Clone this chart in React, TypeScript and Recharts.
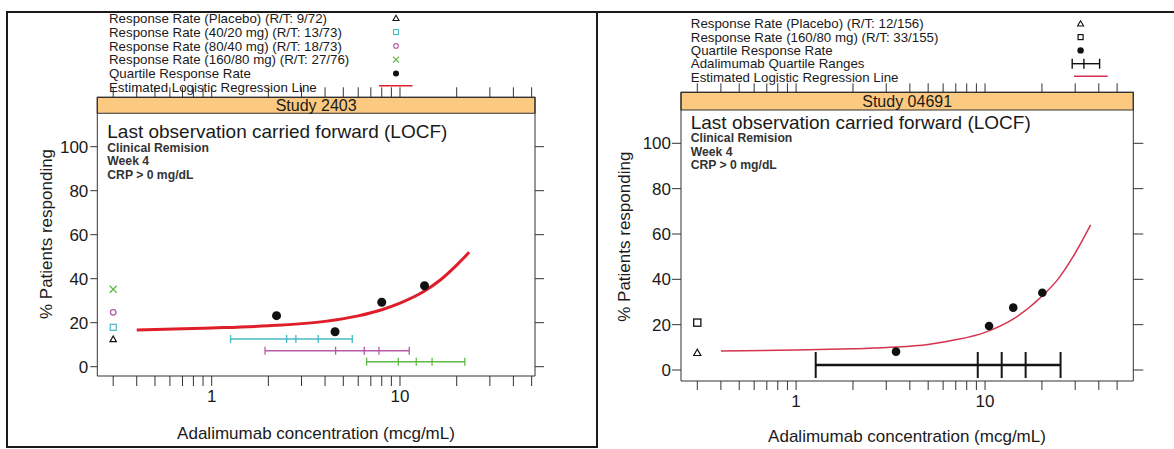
import React from 'react';
import { ComposedChart, XAxis, YAxis, Line, Scatter, ReferenceArea } from 'recharts';

const FONT = '"Liberation Sans", Arial, Helvetica, sans-serif';

// shared axes
const xTicks = [0.3, 0.4, 0.5, 0.6, 0.7, 0.8, 0.9, 1, 2, 3, 4, 5, 6, 7, 8, 9, 10, 20, 30, 40, 50];
const xLabelTicks = [1, 10];
const yTicks = [0, 20, 40, 60, 80, 100];

// Study 2403
const placebo2403 = [{ x: 0.3, y: 12.5 }];
const dose40_2403 = [{ x: 0.3, y: 17.9 }];
const dose80_2403 = [{ x: 0.3, y: 24.7 }];
const dose160_2403 = [{ x: 0.3, y: 35.2 }];
const quartile2403 = [
  { x: 2.21, y: 23.2 },
  { x: 4.52, y: 15.9 },
  { x: 8.0, y: 29.3 },
  { x: 13.5, y: 36.8 },
];
const fit2403 = [
  { x: 0.4, y: 16.7 }, { x: 1, y: 17.6 }, { x: 2, y: 18.6 }, { x: 4, y: 20.6 },
  { x: 6, y: 23.1 }, { x: 8, y: 25.9 }, { x: 10, y: 28.9 }, { x: 13.5, y: 34.4 },
  { x: 16.3, y: 39.3 }, { x: 20, y: 46.2 }, { x: 23.3, y: 52.0 },
];
const range40Ticks2403 = [1.26, 2.5, 2.8, 3.68, 5.58];
const range80Ticks2403 = [1.92, 4.55, 6.46, 7.73, 11.2];
const range160Ticks2403 = [6.65, 9.8, 12.2, 14.8, 22.1];
const rangeLevels2403 = [12.6, 7.3, 2.3];

// Study 04691
const placebo04691 = [{ x: 0.3, y: 7.6 }];
const dose160_04691 = [{ x: 0.3, y: 20.9 }];
const quartile04691 = [
  { x: 3.38, y: 8.1 },
  { x: 10.5, y: 19.4 },
  { x: 14.1, y: 27.5 },
  { x: 20.1, y: 34.1 },
];
const fit04691 = [
  { x: 0.4, y: 8.4 }, { x: 1, y: 8.8 }, { x: 2, y: 9.4 }, { x: 3.4, y: 10.1 },
  { x: 5, y: 11.3 }, { x: 7, y: 13.3 }, { x: 10, y: 16.6 }, { x: 14, y: 22.3 },
  { x: 20, y: 32.5 }, { x: 24.4, y: 40.2 }, { x: 29.4, y: 50.3 }, { x: 36.2, y: 64.0 },
];
const rangeTicks04691 = [1.27, 9.15, 12.25, 16.4, 25.1];
const rangeLevel04691 = 2.2;

const legend2403 = [
  'Response Rate (Placebo) (R/T: 9/72)',
  'Response Rate (40/20 mg) (R/T: 13/73)',
  'Response Rate (80/40 mg) (R/T: 18/73)',
  'Response Rate (160/80 mg) (R/T: 27/76)',
  'Quartile Response Rate',
  'Estimated Logistic Regression Line',
];
const legend04691 = [
  'Response Rate (Placebo) (R/T: 12/156)',
  'Response Rate (160/80 mg) (R/T: 33/155)',
  'Quartile Response Rate',
  'Adalimumab Quartile Ranges',
  'Estimated Logistic Regression Line',
];
const notes = ['Clinical Remision', 'Week 4', 'CRP > 0 mg/dL'];

const C_RED = '#e01e2a';
const C_RED2 = '#d43450';
const C_CYAN = '#48b8c4';
const C_MAG = '#b85aa8';
const C_GREEN = '#62b845';
const C_AXIS = '#333';
const C_TEXT = '#1a1a1a';

const triShape = (h: number, color: string, sw: number) => (p: any) => {
  const { cx, cy } = p;
  if (cx == null || cy == null) return <g />;
  return (
    <polygon
      points={`${cx},${cy - h} ${cx - h},${cy + h * 0.75} ${cx + h},${cy + h * 0.75}`}
      fill="none" stroke={color} strokeWidth={sw}
    />
  );
};
const sqShape = (h: number, color: string, sw: number) => (p: any) => {
  const { cx, cy } = p;
  if (cx == null || cy == null) return <g />;
  return <rect x={cx - h} y={cy - h} width={2 * h} height={2 * h} fill="none" stroke={color} strokeWidth={sw} />;
};
const circShape = (r: number, color: string, sw: number) => (p: any) => {
  const { cx, cy } = p;
  if (cx == null || cy == null) return <g />;
  return <circle cx={cx} cy={cy} r={r} fill="none" stroke={color} strokeWidth={sw} />;
};
const xShape = (h: number, color: string, sw: number) => (p: any) => {
  const { cx, cy } = p;
  if (cx == null || cy == null) return <g />;
  return (
    <g stroke={color} strokeWidth={sw}>
      <line x1={cx - h} y1={cy - h} x2={cx + h} y2={cy + h} />
      <line x1={cx - h} y1={cy + h} x2={cx + h} y2={cy - h} />
    </g>
  );
};
const dotShape = (r: number, color: string) => (p: any) => {
  const { cx, cy } = p;
  if (cx == null || cy == null) return <g />;
  return <circle cx={cx} cy={cy} r={r} fill={color} />;
};
const vTick = (h: number, color: string, sw: number) => (p: any) => {
  const { cx, cy } = p;
  if (cx == null || cy == null) return <g />;
  return <line x1={cx} x2={cx} y1={cy - h} y2={cy + h} stroke={color} strokeWidth={sw} />;
};

function rangeSeries(ticks: number[], level: number, color: string, lw: number, tw: number, half: number, key: string) {
  const pts = ticks.map((x) => ({ x, y: level }));
  return [
    <Line key={key + 'l'} data={[pts[0], pts[pts.length - 1]]} dataKey="y" type="linear" stroke={color}
      strokeWidth={lw} dot={false} activeDot={false} isAnimationActive={false} />,
    <Scatter key={key + 's'} data={pts} shape={vTick(half, color, tw)} isAnimationActive={false} />,
  ];
}

const fmtX = (v: number) => (xLabelTicks.includes(v) ? String(v) : '');
const blank = () => '';

function axes(xDomain: number[], yDomain: number[], bottomTick: number, bottomMargin: number, leftTick: number, leftMargin: number, rightTick: number, topTick: number) {
  return [
    <XAxis key="xb" xAxisId={0} dataKey="x" type="number" scale="log" domain={xDomain} allowDataOverflow
      ticks={xTicks} interval={0} tickFormatter={fmtX} tickSize={bottomTick} tickMargin={bottomMargin}
      height={35} stroke={C_AXIS} tick={{ fill: C_TEXT, fontSize: 17 }} />,
    <XAxis key="xt" xAxisId="top" orientation="top" dataKey="x" type="number" scale="log" domain={xDomain}
      allowDataOverflow ticks={xTicks} interval={0} tickFormatter={blank} tickSize={topTick} height={20}
      stroke={C_AXIS} tick={{ fill: C_TEXT, fontSize: 10 }} />,
    <YAxis key="yl" yAxisId={0} dataKey="y" type="number" domain={yDomain} allowDataOverflow ticks={yTicks}
      interval={0} width={50} tickSize={leftTick} tickMargin={leftMargin} stroke={C_AXIS}
      tick={{ fill: C_TEXT, fontSize: 17 }} />,
    <YAxis key="yr" yAxisId="r" orientation="right" type="number" domain={yDomain} allowDataOverflow
      ticks={yTicks} interval={0} width={20} tickSize={rightTick} tickFormatter={blank} stroke={C_AXIS}
      tick={{ fill: C_TEXT, fontSize: 10 }} />,
  ];
}

function Panel2403() {
  const xDomain = [0.247, 52.1];
  const yDomain = [-4.23, 122.45];
  return (
    <ComposedChart width={600} height={449} margin={{ top: 77.3, right: 45, bottom: 38, left: 47.3 }}>
      {axes(xDomain, yDomain, 10, 4, 7, 2, 9, 10)}
      <ReferenceArea x1={xDomain[0]} x2={xDomain[1]} y1={115.2} y2={122.45} fill="#fbca80" fillOpacity={1}
        stroke={C_AXIS} strokeWidth={1.2}
        label={{ value: 'Study 2403', position: 'center', fill: C_TEXT, fontSize: 16 }} />
      {rangeSeries(range40Ticks2403, rangeLevels2403[0], C_CYAN, 1.5, 1.3, 4, 'r40')}
      {rangeSeries(range80Ticks2403, rangeLevels2403[1], C_MAG, 1.5, 1.3, 4, 'r80')}
      {rangeSeries(range160Ticks2403, rangeLevels2403[2], C_GREEN, 1.5, 1.3, 4, 'r160')}
      <Line data={fit2403} dataKey="y" type="monotone" stroke={C_RED} strokeWidth={3} dot={false}
        activeDot={false} isAnimationActive={false} />
      <Scatter data={placebo2403} shape={triShape(3.2, '#111', 1.2)} isAnimationActive={false} />
      <Scatter data={dose40_2403} shape={sqShape(3, C_CYAN, 1.2)} isAnimationActive={false} />
      <Scatter data={dose80_2403} shape={circShape(2.8, C_MAG, 1.3)} isAnimationActive={false} />
      <Scatter data={dose160_2403} shape={xShape(3.5, C_GREEN, 1.3)} isAnimationActive={false} />
      <Scatter data={quartile2403} shape={dotShape(4.5, '#111')} isAnimationActive={false} />
    </ComposedChart>
  );
}

function Panel04691() {
  const xDomain = [0.246, 60.9];
  const yDomain = [-4.85, 122.5];
  return (
    <ComposedChart width={574} height={449} margin={{ top: 72.3, right: 20.7, bottom: 33, left: 31 }}>
      {axes(xDomain, yDomain, 9, 5, 9, 1, 10, 9)}
      <ReferenceArea x1={xDomain[0]} x2={xDomain[1]} y1={114.7} y2={122.5} fill="#fbca80" fillOpacity={1}
        stroke={C_AXIS} strokeWidth={1.2}
        label={{ value: 'Study 04691', position: 'center', fill: C_TEXT, fontSize: 16 }} />
      {rangeSeries(rangeTicks04691, rangeLevel04691, '#151515', 2.6, 2, 13, 'rq')}
      <Line data={fit04691} dataKey="y" type="monotone" stroke={C_RED2} strokeWidth={1.5} dot={false}
        activeDot={false} isAnimationActive={false} />
      <Scatter data={placebo04691} shape={triShape(3.6, '#111', 1.2)} isAnimationActive={false} />
      <Scatter data={dose160_04691} shape={sqShape(3.6, '#111', 1.3)} isAnimationActive={false} />
      <Scatter data={quartile04691} shape={dotShape(4.3, '#111')} isAnimationActive={false} />
    </ComposedChart>
  );
}

function Overlay() {
  const lx = 396;
  const ly = (i: number) => 18.3 + 13.8 * i;
  const rx = 1080.6;
  const ry = (i: number) => 23.8 + 13.3 * i;
  return (
    <svg width={1174} height={449} style={{ position: 'absolute', left: 0, top: 0, pointerEvents: 'none' }}
      fontFamily={FONT}>
      {/* panel frames */}
      <rect x={7} y={12} width={590} height={435} fill="none" stroke="#1a1a1a" strokeWidth={2} />
      <line x1={597} y1={12} x2={1174} y2={12} stroke="#1a1a1a" strokeWidth={2} />

      {/* legend: study 2403 */}
      {legend2403.map((t, i) => (
        <text key={'l' + i} x={109} y={ly(i) + 4.6} fontSize={13.3} fill={C_TEXT}>{t}</text>
      ))}
      <polygon points={`${lx},${ly(0) - 3} ${lx - 3},${ly(0) + 2.2} ${lx + 3},${ly(0) + 2.2}`} fill="none" stroke="#111" strokeWidth={1.1} />
      <rect x={lx - 2.5} y={ly(1) - 2.5} width={5} height={5} fill="none" stroke={C_CYAN} strokeWidth={1.1} />
      <circle cx={lx} cy={ly(2)} r={2.3} fill="none" stroke={C_MAG} strokeWidth={1.1} />
      <g stroke={C_GREEN} strokeWidth={1.2}>
        <line x1={lx - 3} y1={ly(3) - 3} x2={lx + 3} y2={ly(3) + 3} />
        <line x1={lx - 3} y1={ly(3) + 3} x2={lx + 3} y2={ly(3) - 3} />
      </g>
      <circle cx={lx} cy={ly(4)} r={3} fill="#111" />
      <line x1={379} x2={412.5} y1={85.7} y2={85.7} stroke={C_RED} strokeWidth={1.5} />

      {/* legend: study 04691 */}
      {legend04691.map((t, i) => (
        <text key={'r' + i} x={690.8} y={ry(i) + 4.6} fontSize={13.3} fill={C_TEXT}>{t}</text>
      ))}
      <polygon points={`${rx},${ry(0) - 3} ${rx - 3},${ry(0) + 2.2} ${rx + 3},${ry(0) + 2.2}`} fill="none" stroke="#111" strokeWidth={1.1} />
      <rect x={rx - 2.5} y={ry(1) - 2.5} width={5} height={5} fill="none" stroke="#111" strokeWidth={1.2} />
      <circle cx={rx} cy={ry(2)} r={3.2} fill="#111" />
      <g stroke="#111" strokeWidth={1.4}>
        <line x1={1072.2} x2={1099.6} y1={ry(3)} y2={ry(3)} />
        <line x1={1072.2} x2={1072.2} y1={ry(3) - 5} y2={ry(3) + 5} />
        <line x1={1083.9} x2={1083.9} y1={ry(3) - 5} y2={ry(3) + 5} />
        <line x1={1099.6} x2={1099.6} y1={ry(3) - 5} y2={ry(3) + 5} />
      </g>
      <line x1={1074} x2={1107.7} y1={76.3} y2={76.3} stroke={C_RED2} strokeWidth={1.5} />

      {/* annotations */}
      <text x={107.3} y={138.3} fontSize={19} fill={C_TEXT}>Last observation carried forward (LOCF)</text>
      {notes.map((t, i) => (
        <text key={'n' + i} x={107.3} y={151.7 + 13.7 * i} fontSize={12.2} fontWeight="bold" fill="#333">{t}</text>
      ))}
      <text x={690.7} y={129.3} fontSize={19} fill={C_TEXT}>Last observation carried forward (LOCF)</text>
      {notes.map((t, i) => (
        <text key={'m' + i} x={690.7} y={142.3 + 13.5 * i} fontSize={12.2} fontWeight="bold" fill="#333">{t}</text>
      ))}

      {/* axis titles */}
      <text x={316} y={438.8} fontSize={17} textAnchor="middle" fill={C_TEXT}>Adalimumab concentration (mcg/mL)</text>
      <text x={907} y={441.5} fontSize={17} textAnchor="middle" fill={C_TEXT}>Adalimumab concentration (mcg/mL)</text>
      <text x={52.2} y={234} fontSize={17} textAnchor="middle" fill={C_TEXT} transform="rotate(-90 52.2 234)">% Patients responding</text>
      <text x={630.5} y={236.7} fontSize={17} textAnchor="middle" fill={C_TEXT} transform="rotate(-90 630.5 236.7)">% Patients responding</text>
    </svg>
  );
}

export default function App() {
  return (
    <div style={{ position: 'absolute', left: 0, top: 0, width: 1174, height: 449, background: '#fff', fontFamily: FONT, overflow: 'hidden' }}>
      <div style={{ position: 'absolute', left: 0, top: 0 }}>
        <Panel2403 />
      </div>
      <div style={{ position: 'absolute', left: 600, top: 0 }}>
        <Panel04691 />
      </div>
      <Overlay />
    </div>
  );
}
